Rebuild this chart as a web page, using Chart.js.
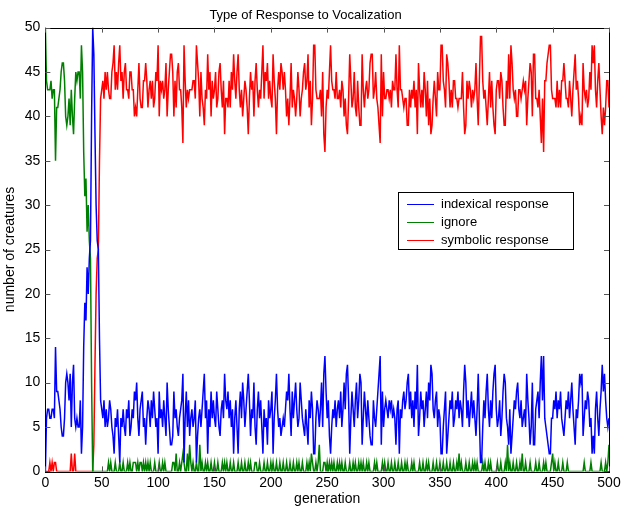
<!DOCTYPE html>
<html><head><meta charset="utf-8">
<script src="https://cdn.jsdelivr.net/npm/chart.js@4.4.1/dist/chart.umd.min.js"></script>
<style>html,body{margin:0;padding:0;background:#fff}canvas{display:block}</style>
</head><body>
<canvas id="c" width="631" height="510"></canvas>
<script>
const title = "Type of Response to Vocalization";
const xLabel = "generation";
const yLabel = "number of creatures";
const seriesNames = ["indexical response", "ignore", "symbolic response"];
const xTicks = [0,50,100,150,200,250,300,350,400,450,500];
const yTicks = [0,5,10,15,20,25,30,35,40,45,50];

const indexical = [
0,6,7,7,6,6,7,7,6,14, 9,9,8,7,5,4,4,6,10,11, 10,8,11,5,10,12,6,5,6,5, 5,8,2,5,14,19,17,23,20,24,
26,40,50,47,38,30,26,25,15,8, 7,6,8,5,7,5,6,8,7,5, 4,2,6,5,7,4,1,6,5,7, 5,4,7,6,8,4,5,7,6,9,
8,10,6,4,7,8,9,5,6,3, 6,8,7,5,8,6,9,7,5,6, 2,9,6,7,5,8,6,4,10,7, 5,3,3,4,9,6,7,5,4,6,
7,8,11,1,6,9,5,8,4,6, 7,5,6,8,1,4,6,7,5,7, 9,11,6,8,2,7,5,9,6,8, 6,5,9,7,5,4,7,8,6,11,
8,7,9,6,8,5,7,2,6,8, 5,2,7,9,6,10,8,5,7,9, 11,8,4,7,6,10,5,3,7,9, 6,8,5,2,7,5,6,3,8,6,
7,9,2,6,8,11,7,5,6,4, 5,6,5,7,9,8,11,7,4,9, 6,8,10,7,5,6,10,8,6,5, 4,7,5,3,8,6,9,7,2,2,
6,8,7,5,7,10,5,11,13,9, 6,8,4,2,5,7,6,8,5,7, 8,6,9,5,7,10,7,11,12,8, 2,6,9,7,5,8,10,6,8,11,
10,3,6,9,7,5,8,6,4,3, 3,8,6,5,7,9,11,13,3,9, 5,7,8,7,6,8,7,8,6,7, 6,3,7,8,2,7,6,8,9,7,
8,10,11,7,9,6,8,5,9,7, 12,4,6,9,7,8,5,7,9,6, 10,8,12,11,7,6,8,9,5,7, 6,2,2,5,7,9,2,4,6,8,
7,9,5,6,8,7,9,6,8,7, 5,9,12,10,6,8,5,7,9,6, 8,6,4,7,11,6,1,1,5,8, 6,9,11,7,5,8,6,9,11,12,
7,5,6,8,4,6,9,11,10,6, 5,3,7,2,4,6,8,7,9,10, 7,6,8,5,6,7,5,11,8,6, 3,5,10,3,3,7,8,9,6,10,
13,8,13,6,5,4,3,2,2,6, 6,8,7,9,6,8,7,9,6,5, 4,6,8,7,9,6,8,10,7,5, 3,7,6,8,11,10,11,4,6,8,
7,9,8,5,6,2,4,2,7,9, 6,4,7,9,12,9,11,8,6,5,6
];

const ignore = [
50,44,43,43,43,44,42,43,43,35, 41,41,42,43,45,46,46,44,40,39, 40,42,39,43,40,38,42,45,44,45, 45,42,48,45,36,31,33,27,30,26,
24,10,0,0,0,0,0,0,0,0, 0,0,0,0,0,0,1,0,1,0, 0,0,1,0,0,0,1,0,0,1, 0,0,0,1,0,1,0,0,1,1,
1,0,1,0,1,1,0,1,0,1, 0,1,0,1,0,0,0,1,0,0, 0,1,0,0,1,0,1,0,0,0, 0,0,0,1,1,0,2,0,0,1,
0,1,2,1,0,0,2,0,3,1, 0,1,0,0,1,0,0,3,0,1, 0,0,1,0,1,0,0,1,0,0, 1,0,0,1,0,0,0,1,0,1,
0,1,0,0,1,0,0,1,0,0, 0,1,0,0,1,0,0,1,0,0, 1,0,1,0,0,0,1,1,0,0, 1,0,0,0,1,0,0,1,0,0,
1,0,1,0,0,1,0,0,1,0, 0,1,0,0,1,0,0,1,0,0, 1,0,0,1,0,1,0,0,1,0, 0,0,1,0,1,0,2,1,0,0,
1,0,1,3,0,0,0,1,1,0, 1,0,1,0,1,0,1,0,0,1, 0,1,0,1,0,0,1,0,0,0, 1,0,0,1,0,1,0,0,1,0,
1,0,1,0,0,1,0,1,0,0, 0,0,1,0,1,0,0,0,0,1, 0,1,0,0,1,0,0,1,0,0, 1,0,0,1,0,0,1,0,0,1,
0,1,0,0,0,1,0,1,0,0, 0,0,1,0,0,1,0,0,1,0, 1,0,0,0,1,0,0,1,0,0, 1,0,0,1,0,0,1,0,0,1,
0,0,1,0,0,1,0,2,0,1, 0,0,0,1,0,0,1,0,0,1, 0,1,0,1,0,0,0,0,1,0, 1,0,0,1,0,1,0,0,0,0,
0,1,0,0,1,0,0,0,1,0, 3,0,1,0,0,1,0,0,1,0, 0,1,0,2,0,0,1,0,0,0, 1,0,0,0,0,1,0,0,1,0,
0,0,1,0,1,0,0,0,0,1, 2,0,1,0,0,1,0,0,0,1, 0,0,0,1,0,0,0,0,0,0, 0,0,0,0,0,0,0,0,1,0,
0,0,0,0,1,0,0,0,0,0, 0,0,0,1,0,0,0,1,0,1,3
];

const symbolic = [
0,0,0,0,1,0,1,0,1,1, 0,0,0,0,0,0,0,0,0,0, 0,0,0,2,0,0,2,0,0,0, 0,0,0,0,0,0,0,0,0,0,
0,0,0,3,12,20,24,25,35,42, 43,44,42,45,43,45,43,42,42,45, 46,48,43,45,43,46,48,44,45,42, 45,46,43,43,42,45,45,43,43,40,
41,40,43,46,42,41,41,44,44,46, 44,41,43,44,42,44,41,42,45,44, 48,40,44,43,44,42,43,46,40,43, 45,47,47,45,40,44,41,45,46,43,
43,41,37,48,44,41,43,42,43,43, 43,44,44,42,48,46,44,40,45,42, 41,39,43,42,47,43,45,40,44,42, 43,45,41,42,45,46,43,41,44,38,
42,42,41,44,41,45,43,47,44,42, 45,47,43,41,43,40,42,44,43,41, 38,42,45,43,44,40,44,46,43,41, 43,42,45,48,42,45,44,46,42,44,
42,41,47,44,42,38,43,45,43,46, 45,43,45,43,40,42,39,42,46,41, 43,42,40,42,45,43,40,42,43,45, 46,43,44,47,41,44,39,42,48,48,
43,42,42,42,43,40,45,38,36,41, 43,42,45,48,44,43,43,42,45,42, 42,43,41,44,43,40,42,39,38,42, 47,44,41,42,45,41,40,44,41,39,
39,47,43,41,43,44,42,43,46,47, 47,42,43,45,42,41,39,37,47,40, 45,42,42,43,43,42,43,41,44,43, 43,47,43,41,48,43,43,42,41,42,
42,39,39,43,41,43,42,44,41,43, 38,46,43,41,43,41,45,43,40,44, 39,42,38,39,42,44,42,40,45,43, 43,48,48,44,43,41,47,46,44,41,
43,41,44,44,42,42,41,42,42,42, 45,41,38,39,44,42,44,43,41,43, 42,43,46,42,39,44,49,49,44,42, 43,41,39,42,45,41,44,41,39,38,
43,44,44,42,45,44,41,39,39,44, 42,47,42,48,46,43,42,43,40,40, 43,43,42,43,44,43,44,39,42,44, 46,45,40,47,47,42,42,41,43,40,
37,42,36,44,44,46,47,48,48,43, 42,42,42,41,44,41,43,41,44,44, 46,44,42,42,41,44,42,40,43,45, 47,43,44,42,39,40,39,46,43,42,
43,41,42,45,43,48,46,48,43,41, 44,46,43,40,38,41,39,41,44,44,41
];

const colors = ["#0000ff", "#008000", "#ff0000"];
const FONT = "'Liberation Sans', Arial, Helvetica, sans-serif";

function toPts(arr){ return arr.map((v,i)=>({x:i, y:v})); }

const boxTicks = {
  id: 'boxTicks',
  afterDraw(chart){
    const {ctx, chartArea:a, scales} = chart;
    ctx.save();
    ctx.strokeStyle = '#000';
    ctx.lineWidth = 1;
    ctx.strokeRect(Math.round(a.left)+0.5, Math.round(a.top)+0.5, Math.round(a.right-a.left), Math.round(a.bottom-a.top));
    ctx.strokeStyle = '#555';
    const L = 5;
    scales.x.ticks.forEach(t=>{
      const px = Math.round(scales.x.getPixelForValue(t.value))+0.5;
      ctx.beginPath(); ctx.moveTo(px, a.bottom); ctx.lineTo(px, a.bottom-L); ctx.stroke();
      ctx.beginPath(); ctx.moveTo(px, a.top); ctx.lineTo(px, a.top+L); ctx.stroke();
    });
    scales.y.ticks.forEach(t=>{
      const py = Math.round(scales.y.getPixelForValue(t.value))+0.5;
      ctx.beginPath(); ctx.moveTo(a.left, py); ctx.lineTo(a.left+L, py); ctx.stroke();
      ctx.beginPath(); ctx.moveTo(a.right, py); ctx.lineTo(a.right-L, py); ctx.stroke();
    });
    // legend box
    const lx = 398, ly = 192, lw = 175, lh = 57;
    ctx.fillStyle = '#fff';
    ctx.fillRect(lx, ly, lw, lh);
    ctx.strokeStyle = '#000';
    ctx.strokeRect(lx+0.5, ly+0.5, lw, lh);
    ctx.font = '13px ' + FONT;
    ctx.textBaseline = 'middle';
    chart.data.datasets.forEach((ds, i)=>{
      const yy = ly + 12 + i*18;
      ctx.strokeStyle = ds.borderColor;
      ctx.lineWidth = 1;
      ctx.beginPath(); ctx.moveTo(lx+9, yy+0.5); ctx.lineTo(lx+36, yy+0.5); ctx.stroke();
      ctx.fillStyle = '#000';
      ctx.fillText(ds.label, lx+43, yy);
    });
    ctx.restore();
  }
};

new Chart(document.getElementById('c'), {
  type: 'line',
  data: {
    datasets: [
      {label: seriesNames[0], data: toPts(indexical), borderColor: colors[0]},
      {label: seriesNames[1], data: toPts(ignore), borderColor: colors[1]},
      {label: seriesNames[2], data: toPts(symbolic), borderColor: colors[2]}
    ].map(d=>Object.assign(d, {borderWidth: 1.5, pointRadius: 0, tension: 0, fill: false}))
  },
  options: {
    responsive: false,
    animation: false,
    layout: {padding: {left: 2, right: 22, top: 0, bottom: 2}},
    plugins: {
      legend: {display: false},
      tooltip: {enabled: false},
      title: {display: true, text: title, color: '#000', font: {family: FONT, size: 13, weight: 'normal'}, padding: {top: 8, bottom: 4}}
    },
    scales: {
      x: {
        type: 'linear', min: 0, max: 500,
        afterBuildTicks: s => { s.ticks = xTicks.map(v=>({value:v})); },
        ticks: {color: '#000', font: {family: FONT, size: 14}, padding: 3, maxRotation: 0},
        grid: {display: false, drawTicks: false},
        border: {display: false},
        title: {display: true, text: xLabel, color: '#000', font: {family: FONT, size: 14}, padding: {top: -3, bottom: 0}}
      },
      y: {
        type: 'linear', min: 0, max: 50,
        afterBuildTicks: s => { s.ticks = yTicks.map(v=>({value:v})); },
        ticks: {color: '#000', font: {family: FONT, size: 14}, padding: 5},
        grid: {display: false, drawTicks: false},
        border: {display: false},
        title: {display: true, text: yLabel, color: '#000', font: {family: FONT, size: 14}, padding: {top: 0, bottom: 1}}
      }
    }
  },
  plugins: [boxTicks]
});
</script>
</body></html>
